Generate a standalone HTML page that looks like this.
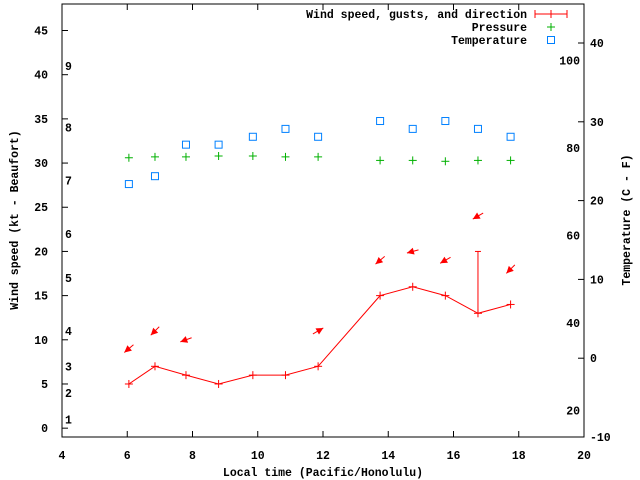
<!DOCTYPE html>
<html><head><meta charset="utf-8"><style>
body{margin:0;background:#fff}
svg{display:block}
text{font-family:"Liberation Mono",monospace;font-size:11.5px;font-weight:bold;fill:#000}
</style></head><body>
<svg id="chart" width="640" height="480" viewBox="0 0 640 480" xmlns="http://www.w3.org/2000/svg">
<g id="axes"></g>
<g id="marks"></g>
<g id="legend">
<text x="527" y="18" text-anchor="end">Wind speed, gusts, and direction</text>
<g stroke="#f00" stroke-width="1"><line x1="535" y1="14" x2="567" y2="14"/><line x1="535" y1="10" x2="535" y2="18"/><line x1="567" y1="10" x2="567" y2="18"/><line x1="551" y1="10" x2="551" y2="18"/></g>
<text x="527" y="31" text-anchor="end">Pressure</text>
<g stroke="#00b000"><line x1="547" y1="27" x2="555" y2="27"/><line x1="551" y1="23" x2="551" y2="31"/></g>
<text x="527" y="44" text-anchor="end">Temperature</text>
<rect x="547.5" y="36.5" width="7" height="7" fill="none" stroke="#0080ff"/>
</g>
<text x="0" y="0" transform="translate(18,220) rotate(-90)" text-anchor="middle">Wind speed (kt - Beaufort)</text>
<text x="0" y="0" transform="translate(630,220) rotate(-90)" text-anchor="middle">Temperature (C - F)</text>
<text x="323" y="476" text-anchor="middle">Local time (Pacific/Honolulu)</text>
</svg>
<script>
const times = [6.05, 6.85, 7.8, 8.8, 9.85, 10.85, 11.85, 13.75, 14.75, 15.75, 16.75, 17.75];
const windSpeed = [5, 7, 6, 5, 6, 6, 7, 15, 16, 15, 13, 14];
const windGust = [null, null, null, null, null, null, null, null, null, null, 20, null];
const windDir = [220, 225, 200, null, null, null, 30, 220, 195, 210, 210, 225];
const pressure = [30.6, 30.7, 30.7, 30.8, 30.8, 30.7, 30.7, 30.3, 30.3, 30.2, 30.3, 30.3];
const tempTimes = [6.05, 6.85, 7.8, 8.8, 9.85, 10.85, 11.85, 13.75, 14.75, 15.75, 16.75, 17.75];
const temperature = [22.1, 23.1, 27.1, 27.1, 28.1, 29.1, 28.1, 30.1, 29.1, 30.1, 29.1, 28.1];
const xTicks = [4, 6, 8, 10, 12, 14, 16, 18, 20];
const yTicks = [0, 5, 10, 15, 20, 25, 30, 35, 40, 45];
const y2Ticks = [-10, 0, 10, 20, 30, 40];
const fLabels = [20, 40, 60, 80, 100];
const beaufortKt = [1, 4, 7, 11, 17, 22, 28, 34, 41];

const L=62,R=584,T=4,B=437;
const X=v=>L+(v-4)*(R-L)/16;
const Y=v=>B-(v+1)*(B-T)/49;
const Y2=c=>B-(c+10)*(B-T)/54.95;
const NS='http://www.w3.org/2000/svg';
function mk(tag,attrs,parent){const e=document.createElementNS(NS,tag);for(const k in attrs)e.setAttribute(k,attrs[k]);parent.appendChild(e);return e;}
const ax=document.getElementById('axes'), mg=document.getElementById('marks');
let f=mk('rect',{x:L,y:T,width:R-L,height:B-T,fill:'none',stroke:'#000'},ax);


xTicks.forEach(v=>{const x=X(v);
 mk('line',{x1:x,y1:B,x2:x,y2:B-6,stroke:'#000'},ax);mk('line',{x1:x,y1:T,x2:x,y2:T+6,stroke:'#000'},ax);
 const t=mk('text',{x:x,y:B+22,'text-anchor':'middle'},ax);t.textContent=v;
 
 });
yTicks.forEach(v=>{const y=Y(v);mk('line',{x1:L,y1:y,x2:L+6,y2:y,stroke:'#000'},ax);
 const t=mk('text',{x:L-14,y:y+4,'text-anchor':'end'},ax);t.textContent=v;
 
 });
y2Ticks.forEach(v=>{const y=Y2(v);mk('line',{x1:R,y1:y,x2:R-6,y2:y,stroke:'#000'},ax);
 const t=mk('text',{x:R+6,y:y+4},ax);t.textContent=v;
 
 });
fLabels.forEach(v=>{const y=Y2((v-32)*5/9);const t=mk('text',{x:R-4,y:y+4,'text-anchor':'end'},ax);t.textContent=v;
 
 });
beaufortKt.forEach((k,i)=>{const t=mk('text',{x:65,y:Y(k)+4},ax);t.textContent=i+1;
 
 });
// wind line
const pl=mk('polyline',{points:times.map((t,i)=>X(t)+','+Y(windSpeed[i])).join(' '),fill:'none',stroke:'#f00'},mg);


times.forEach((t,i)=>{const x=X(t),y=Y(windSpeed[i]);
 const g=mk('g',{stroke:'#f00'},mg);
 
 
 mk('line',{x1:x-4,y1:y,x2:x+4,y2:y},g);mk('line',{x1:x,y1:y-4,x2:x,y2:y+4},g);
 let top=windSpeed[i];
 if(windGust[i]!=null){top=windGust[i];const gy=Y(windGust[i]);mk('line',{x1:x,y1:y,x2:x,y2:gy},g);mk('line',{x1:x-3,y1:gy,x2:x+3,y2:gy},g);}
 if(windDir[i]!=null){const cy=Y(top+4),a=windDir[i]*Math.PI/180,dx=Math.cos(a),dy=-Math.sin(a);
  const hx=x+dx*6,hy=cy+dy*6,tx=x-dx*6,ty=cy-dy*6;
  const ar=mk('g',{},mg);
  
  
  mk('line',{x1:tx,y1:ty,x2:hx,y2:hy,stroke:'#f00'},ar);
  const px=-dy,py=dx,bx=hx-dx*7,by=hy-dy*7;
  mk('polygon',{points:`${hx},${hy} ${bx+px*3.5},${by+py*3.5} ${bx-px*3.5},${by-py*3.5}`,fill:'#f00'},ar);}
});
pressure.forEach((p,i)=>{const x=X(times[i]),y=Y(p);const g=mk('g',{stroke:'#00b000'},mg);
 
 
 mk('line',{x1:x-4,y1:y,x2:x+4,y2:y},g);mk('line',{x1:x,y1:y-4,x2:x,y2:y+4},g);});
temperature.forEach((c,i)=>{const x=X(tempTimes[i]),y=Y2(c);
 const r=mk('rect',{x:x-3.5,y:y-3.5,width:7,height:7,fill:'none',stroke:'#0080ff'},mg);
 
 });
</script>
</body></html>
